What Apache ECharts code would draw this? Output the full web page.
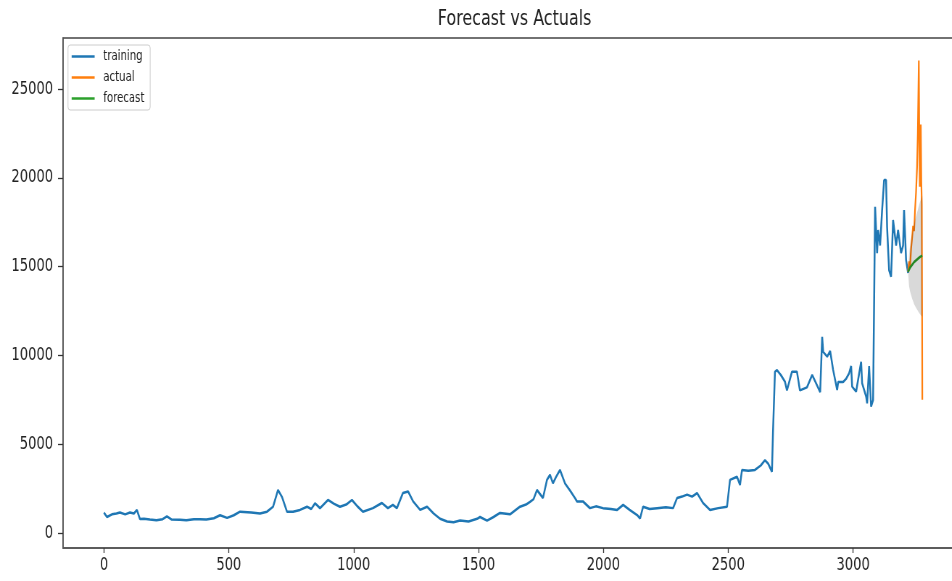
<!DOCTYPE html>
<html>
<head>
<meta charset="utf-8">
<script src="https://cdn.jsdelivr.net/npm/echarts@6/dist/echarts.min.js"></script>
<style>
html,body{margin:0;padding:0;background:#fff;overflow:hidden;}
#wrap{width:952px;height:581px;overflow:hidden;position:relative;}
#chart{width:1313px;height:581px;transform:scaleX(0.725);transform-origin:0 0;position:absolute;left:0;top:0;}
</style>
</head>
<body>
<div id="wrap"><div id="chart"></div></div>
<script>
// ---- data ----
var trainX = [0,12,32,50,64,85,104,120,132,144,160,184,210,235,252,270,304,330,360,384,410,440,465,493,520,545,590,625,653,677,697,713,733,757,785,813,830,845,865,897,920,945,970,993,1015,1037,1077,1113,1137,1157,1173,1197,1218,1238,1266,1294,1320,1346,1374,1400,1426,1460,1494,1506,1534,1560,1586,1626,1666,1690,1706,1720,1734,1758,1774,1786,1798,1812,1826,1846,1866,1886,1894,1918,1946,1970,1998,2030,2055,2079,2105,2135,2147,2159,2185,2215,2250,2279,2295,2315,2335,2355,2375,2399,2427,2460,2495,2507,2535,2547,2555,2580,2607,2630,2647,2660,2675,2679,2683,2687,2695,2710,2727,2735,2755,2775,2787,2815,2836,2856,2868,2876,2880,2896,2908,2920,2936,2940,2960,2972,2984,2992,2996,3012,3032,3036,3052,3056,3064,3072,3080,3088,3096,3100,3108,3116,3124,3132,3136,3144,3152,3160,3172,3180,3192,3200,3204,3212,3220];
var trainY = [1150,900,1050,1100,1150,1050,1150,1100,1300,790,800,760,720,780,930,760,740,720,780,780,760,830,1000,850,1000,1200,1150,1100,1200,1480,2420,2030,1200,1200,1300,1480,1350,1670,1400,1860,1650,1480,1600,1860,1500,1200,1400,1690,1400,1580,1400,2250,2340,1780,1300,1480,1100,800,650,600,700,650,800,900,700,900,1130,1050,1480,1600,1750,1900,2420,1970,2990,3270,2800,3200,3550,2800,2400,1970,1780,1780,1400,1500,1400,1350,1300,1580,1300,1010,820,1480,1350,1400,1450,1400,1970,2050,2160,2050,2250,1690,1300,1400,1480,2990,3170,2700,3550,3500,3550,3800,4100,3900,3450,5630,5630,9080,9170,8900,8520,8030,9080,9080,8030,8200,8900,8300,7930,11050,10200,9930,10250,9180,8050,8500,8500,8680,9000,9400,8240,7960,9640,8430,7680,7300,9400,7120,7490,18370,15760,17060,16190,18180,19870,19870,17240,14800,14430,17620,16190,17060,15760,16190,18180,15370,14640];

var actualX = [3220,3224,3228,3232,3236,3240,3244,3248,3252,3256,3259,3261,3263,3265,3267,3269,3271,3273,3275,3277];
var actualY = [14700,15300,15000,16000,16600,17300,17000,18200,19200,20600,22500,24500,26600,22000,19500,21000,23000,19800,18500,7500];

var forecastX = [3220,3228,3236,3244,3252,3260,3268,3277];
var forecastY = [14700,14950,15100,15250,15350,15450,15550,15620];

var ciX     = [3220,3224,3228,3232,3236,3240,3244,3248,3252,3256,3260,3264,3268,3272,3277];
var ciLower = [14700,13900,13600,13400,13200,13050,12900,12780,12680,12580,12480,12400,12320,12250,12180];
var ciUpper = [14700,15700,16200,16550,16850,17150,17400,17650,17850,18050,18250,18450,18650,18800,19000];

var xTicks = [0,500,1000,1500,2000,2500,3000];
var yTicks = [0,5000,10000,15000,20000,25000];
var seriesNames = ['training','actual','forecast'];

// ---- build ----
function pairs(xs, ys){ return xs.map(function(x,i){ return [x, ys[i]]; }); }
var FONT = "'DejaVu Sans', sans-serif";
var SX = 0.725; // horizontal squeeze of the reference picture
function ux(px){ return px / SX; }

var chart = echarts.init(document.getElementById('chart'), null, {renderer:'canvas'});
chart.setOption({
  animation: false,
  backgroundColor: '#fff',
  title: {
    text: 'Forecast vs Actuals',
    left: ux(511), top: 3, textAlign: 'center',
    textStyle: {fontFamily: FONT, fontSize: 22, fontWeight: 'normal', color: '#222'}
  },
  legend: {
    orient: 'vertical', left: ux(68), top: 45,
    padding: [4, 8, 4, 5],
    itemWidth: ux(23), itemHeight: 2.5, itemGap: 6,
    icon: 'rect',
    borderColor: '#ccc', borderWidth: 1, borderRadius: 3,
    backgroundColor: 'rgba(255,255,255,0.8)',
    data: seriesNames,
    textStyle: {fontFamily: FONT, fontSize: 14, color: '#222', lineHeight: 15, padding: [0,0,0,7]}
  },
  grid: {left: ux(63), top: 38, width: ux(897), height: 510, show: true,
         borderColor: '#444', borderWidth: 1.5, outerBoundsMode: 'none', containLabel: false},
  xAxis: {
    type: 'value', min: -164, max: 3428,
    splitLine: {show: false},
    axisLine: {show: true, onZero: false, lineStyle: {color: '#555', width: 1.5}},
    axisTick: {show: true, length: 5, customValues: xTicks, lineStyle: {color: '#333', width: 1.3}},
    axisLabel: {customValues: xTicks, margin: 8, fontFamily: FONT, fontSize: 18, color: '#222',
                formatter: function(v){ return String(v); }}
  },
  yAxis: {
    type: 'value', min: -845, max: 27872,
    splitLine: {show: false},
    axisLine: {show: true, onZero: false, lineStyle: {color: '#555', width: 1.5}},
    axisTick: {show: true, length: ux(5), customValues: yTicks, lineStyle: {color: '#333', width: 1.3}},
    axisLabel: {customValues: yTicks, margin: ux(10), fontFamily: FONT, fontSize: 18, color: '#222',
                formatter: function(v){ return String(v); }}
  },
  series: [
    {name: 'training', type: 'line', data: pairs(trainX, trainY), showSymbol: false, symbol: 'none',
     lineStyle: {color: '#1f77b4', width: 2.5}, itemStyle: {color: '#1f77b4'}, z: 3},
    {name: 'actual', type: 'line', data: pairs(actualX, actualY), showSymbol: false, symbol: 'none',
     lineStyle: {color: '#ff7f0e', width: 2.2}, itemStyle: {color: '#ff7f0e'}, z: 4},
    {name: 'forecast', type: 'line', data: pairs(forecastX, forecastY), showSymbol: false, symbol: 'none',
     lineStyle: {color: '#2ca02c', width: 2.5}, itemStyle: {color: '#2ca02c'}, z: 5},
    {name: 'ci', type: 'custom', data: [[ciX[0], ciLower[0]]], z: 6, silent: true,
     renderItem: function(params, api){
       var pts = [], i;
       for (i = 0; i < ciX.length; i++) pts.push(api.coord([ciX[i], ciUpper[i]]));
       for (i = ciX.length - 1; i >= 0; i--) pts.push(api.coord([ciX[i], ciLower[i]]));
       return {type: 'polygon', shape: {points: pts}, style: {fill: 'rgba(0,0,0,0.15)'}};
     }}
  ]
});
</script>
</body>
</html>
